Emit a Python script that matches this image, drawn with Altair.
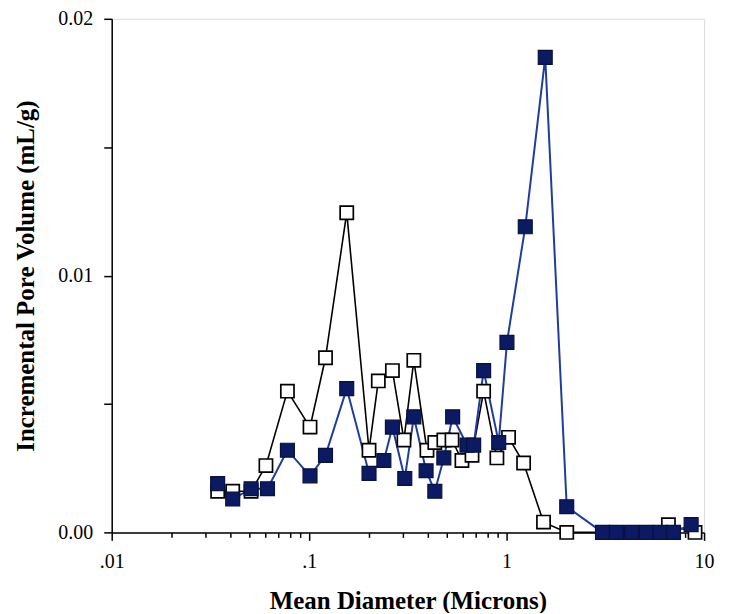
import altair as alt
import pandas as pd

# Filled (navy) series
filled_x = [0.0344, 0.0410, 0.0508, 0.0615, 0.0776, 0.101, 0.121, 0.155, 0.201, 0.239,
            0.264, 0.305, 0.339, 0.391, 0.433, 0.481, 0.533, 0.630, 0.681, 0.765,
            0.912, 1.004, 1.243, 1.569, 2.016, 3.06, 3.6, 4.3, 5.1, 6.0, 7.0, 8.6]
filled_y = [0.0019, 0.0013, 0.0017, 0.0017, 0.0032, 0.0022, 0.0030, 0.0056, 0.0023, 0.0028,
            0.0041, 0.0021, 0.0045, 0.0024, 0.0016, 0.0029, 0.0045, 0.0034, 0.0034, 0.0063,
            0.0035, 0.0074, 0.0119, 0.0185, 0.0010, 0.0, 0.0, 0.0, 0.0, 0.0, 0.0, 0.0003]

# Open (white) series
open_x = [0.0344, 0.0410, 0.0508, 0.0604, 0.0776, 0.101, 0.121, 0.155, 0.201, 0.224,
          0.264, 0.302, 0.339, 0.395, 0.433, 0.481, 0.529, 0.594, 0.668, 0.765,
          0.893, 1.023, 1.219, 1.538, 2.016, 3.06, 3.6, 4.3, 5.1, 6.0, 6.6, 9.0]
open_y = [0.0016, 0.0016, 0.0016, 0.0026, 0.0055, 0.0041, 0.0068, 0.01245, 0.0032, 0.0059,
          0.0063, 0.0036, 0.0067, 0.0032, 0.0035, 0.0036, 0.0036, 0.0028, 0.0030, 0.0055,
          0.0029, 0.0037, 0.0027, 0.0004, 0.0, 0.0, 0.0, 0.0, 0.0, 0.0, 0.0003, 0.0]

x_ticks = [0.01, 0.02, 0.03, 0.04, 0.05, 0.06, 0.07, 0.08, 0.09,
           0.1, 0.2, 0.3, 0.4, 0.5, 0.6, 0.7, 0.8, 0.9,
           1, 2, 3, 4, 5, 6, 7, 8, 9, 10]
y_ticks = [0, 0.005, 0.01, 0.015, 0.02]

df_f = pd.DataFrame({"x": filled_x, "y": filled_y})
df_o = pd.DataFrame({"x": open_x, "y": open_y})

W, H = 594, 515
FONT = "Liberation Serif"

xscale = alt.Scale(type="log", domain=[0.01, 10], nice=False)
yscale = alt.Scale(domain=[0, 0.02], nice=False, zero=False)

xaxis = alt.Axis(
    title="Mean Diameter (Microns)",
    values=x_ticks,
    labelExpr="datum.value == 0.01 ? '.01' : datum.value == 0.1 ? '.1' : datum.value == 1 ? '1' : datum.value == 10 ? '10' : ''",
    tickSize={"condition": {"test": "indexof([0.01, 0.1, 1, 10], datum.value) >= 0", "value": 8}, "value": 5},
    labelPadding=11,
    labelFontSize=20,
    labelFont=FONT,
    labelColor="black",
    labelFlush=False,
    labelOverlap=False,
    titleFont=FONT,
    titleFontSize=25,
    titleFontWeight="bold",
    titleColor="black",
    titleY=68,
    titleBaseline="middle",
    grid=False,
    domainColor="black",
    domainWidth=1.5,
    tickColor="black",
    tickWidth=1.5,
)

yaxis = alt.Axis(
    title="Incremental Pore Volume (mL/g)",
    values=y_ticks,
    labelExpr="round(datum.value * 1000) % 10 == 0 ? format(datum.value, '.2f') : ''",
    tickSize=8,
    labelPadding=11,
    labelFontSize=20,
    labelFont=FONT,
    labelColor="black",
    labelFlush=False,
    labelOverlap=False,
    titleFont=FONT,
    titleFontSize=25,
    titleFontWeight="bold",
    titleColor="black",
    titleX=-86,
    titleY=H / 2,
    titleBaseline="middle",
    grid=False,
    domainColor="black",
    domainWidth=1.5,
    tickColor="black",
    tickWidth=1.5,
)

enc_x = alt.X("x:Q", scale=xscale, axis=xaxis)
enc_y = alt.Y("y:Q", scale=yscale, axis=yaxis)

line_o = alt.Chart(df_o).mark_line(color="black", strokeWidth=1.6).encode(x=enc_x, y=enc_y)
line_f = alt.Chart(df_f).mark_line(color="#1f3d9c", strokeWidth=2).encode(x=enc_x, y=enc_y)
pts_o = alt.Chart(df_o).mark_point(shape="square", filled=True, fill="white", stroke="black",
                                   strokeWidth=1.7, size=175, opacity=1).encode(x=enc_x, y=enc_y)
pts_f = alt.Chart(df_f).mark_point(shape="square", filled=True, fill="#0b1a63", stroke="#07123f",
                                   strokeWidth=1.2, size=195, opacity=1).encode(x=enc_x, y=enc_y)

chart = alt.layer(line_o, line_f, pts_o, pts_f).properties(
    width=W,
    height=H,
    autosize=alt.AutoSizeParams(type="none"),
    padding={"left": 104, "top": 10, "right": 20, "bottom": 80},
).configure_view(stroke=None).configure(background="white")

chart.save("out.html", embed_options={"renderer": "svg", "actions": False})
